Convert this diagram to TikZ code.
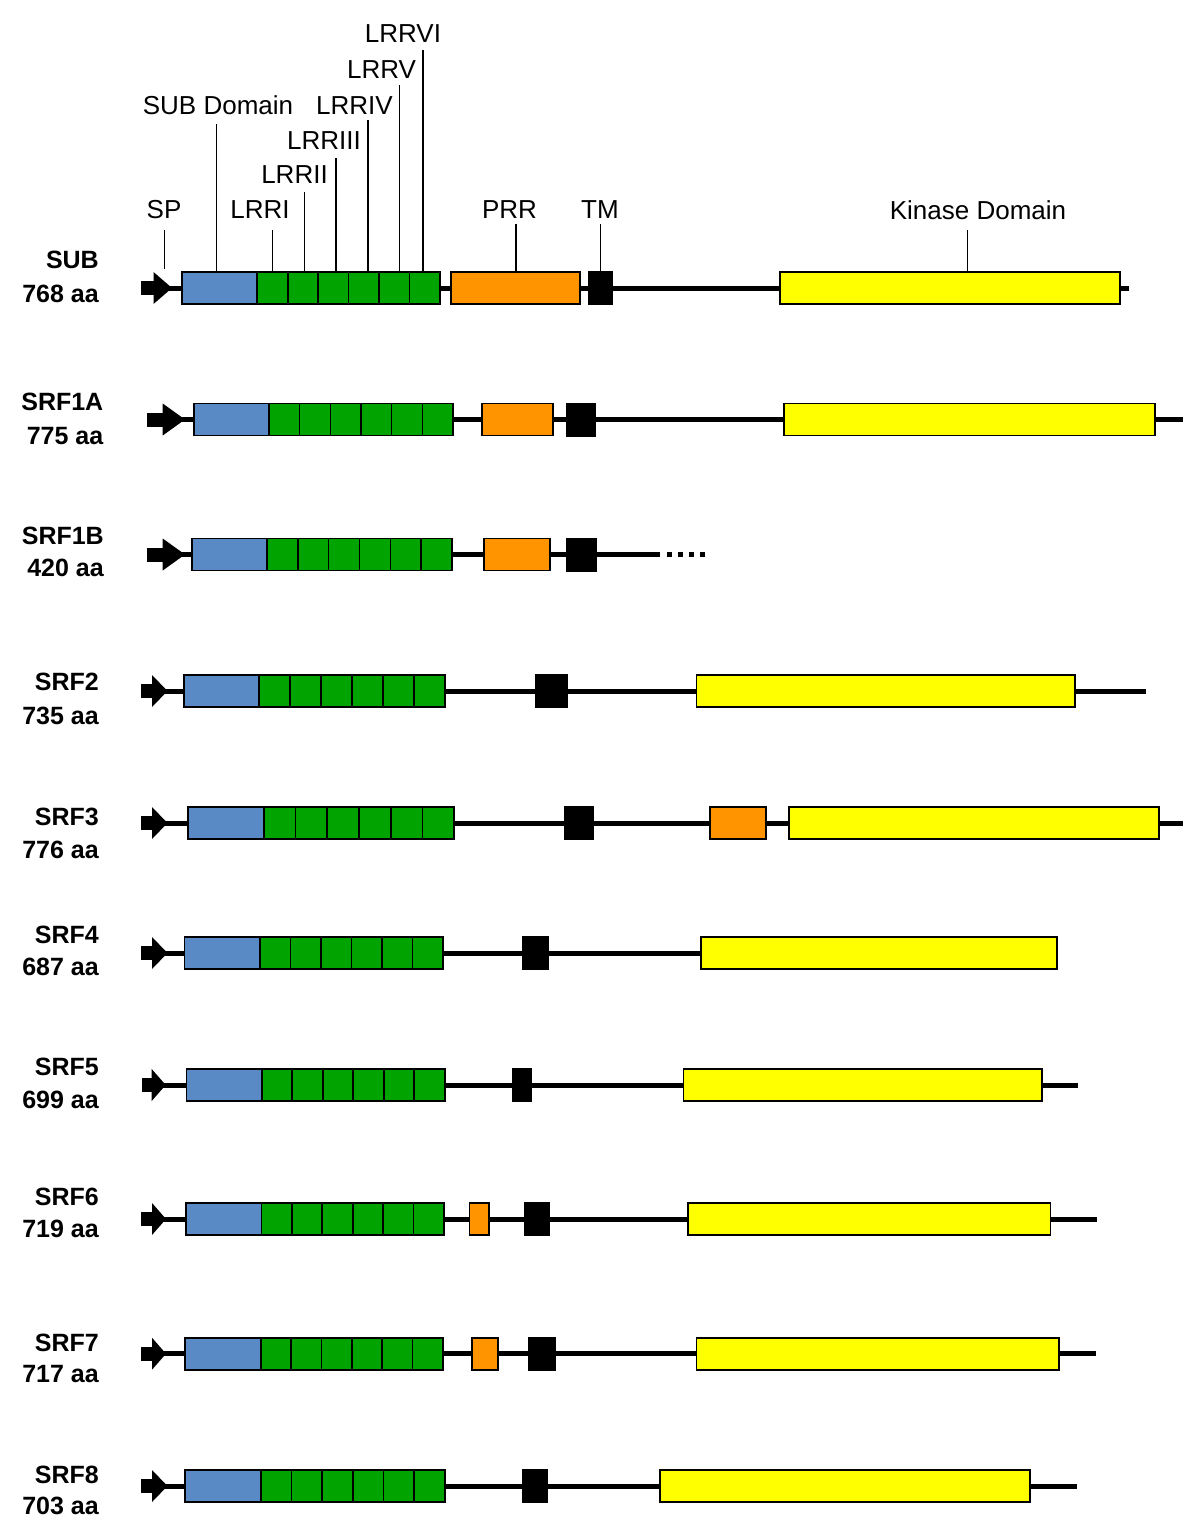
\documentclass[tikz,border=0pt]{standalone}
\usepackage{fontspec}
\setmainfont{Liberation Sans}
\definecolor{subblue}{HTML}{5A8AC6}
\definecolor{lrrgreen}{HTML}{00A300}
\definecolor{prrorange}{HTML}{FF9400}
\definecolor{kinyellow}{HTML}{FFFF00}
\tikzset{
  spineline/.style={line width=5pt, black},
  dombox/.style={draw=black, line width=1.8pt},
  subd/.style={dombox, fill=subblue},
  lrrd/.style={dombox, fill=lrrgreen},
  prrd/.style={dombox, fill=prrorange},
  kind/.style={dombox, fill=kinyellow},
  cellline/.style={line width=1.6pt, black},
  tick/.style={line width=1.6pt, black},
  domlabel/.style={font=\fontsize{26}{30}\selectfont, anchor=base, inner sep=0pt},
  protlabel/.style={font=\fontsize{25}{30}\selectfont\bfseries, anchor=base east, inner sep=0pt}
}
% #1 yc, #2 arrow start, #3 head start, #4 tip, #5 line end
\newcommand\spine[5]{%
  \draw[spineline] (#3,#1) -- (#5,#1);
  \fill (#2,#1-7) rectangle (#3,#1+7);
  \fill (#3,#1-16) -- (#4,#1) -- (#3,#1+16) -- cycle;}
% #1 style, #2 x1, #3 x2, #4 yc
\newcommand\dbox[4]{\path[#1] (#2,#4-16) rectangle (#3,#4+16);}
% #1 x1, #2 x2, #3 yc : six LRR cells
\newcommand\lrrs[3]{%
  \path[lrrd] (#1,#3-16) rectangle (#2,#3+16);
  \foreach \k in {1,...,5}{\draw[cellline] ({#1+\k*(#2-#1)/6},#3-16) -- ({#1+\k*(#2-#1)/6},#3+16);}}
% #1 x1, #2 x2, #3 yc : TM box
\newcommand\tmbox[3]{\fill (#1,#3-17) rectangle (#2,#3+17);}
\begin{document}
\begin{tikzpicture}[x=1pt,y=-1pt]
\useasboundingbox[fill=white] (0,0) rectangle (1200,1537);

% ---------- top labels ----------
\node[domlabel] (lSP)  at (164,218) {SP};
\node[domlabel] (lSUB) at (218,114) {SUB Domain};
\node[domlabel] (lL1)  at (260,218) {LRRI};
\node[domlabel] (lL2)  at (294.5,183) {LRRII};
\node[domlabel] (lL3)  at (324,149) {LRRIII};
\node[domlabel] (lL4)  at (354.5,114) {LRRIV};
\node[domlabel] (lL5)  at (381.5,78) {LRRV};
\node[domlabel] (lL6)  at (403,42) {LRRVI};
\node[domlabel] (lPRR) at (509.5,218) {PRR};
\node[domlabel] (lTM)  at (600,218) {TM};
\node[domlabel] (lKD)  at (978,219) {Kinase Domain};

\draw[tick] (164.5,230) -- (164.5,269);
\draw[tick] (216.6,124) -- (216.6,272);
\draw[tick] (272.6,230) -- (272.6,272);
\draw[tick] (304.6,192) -- (304.6,272);
\draw[tick] (336,158) -- (336,272);
\draw[tick] (368,120) -- (368,272);
\draw[tick] (399.6,85) -- (399.6,272);
\draw[tick] (423,50) -- (423,272);
\draw[tick] (515.8,224) -- (515.8,272);
\draw[tick] (600.4,224) -- (600.4,272);
\draw[tick] (967.5,230) -- (967.5,272);

% ---------- SUB ----------
\node[protlabel] (nSUB) at (99,268) {SUB};
\node[protlabel] (aSUB) at (99,302) {768 aa};
\spine{288}{141}{153.5}{172}{1128.5}
\dbox{subd}{181.7}{257.3}{288}
\lrrs{257.3}{439.8}{288}
\dbox{prrd}{451}{579.7}{288}
\tmbox{588.4}{613.3}{288}
\dbox{kind}{780}{1120}{288}

% ---------- SRF1A ----------
\node[protlabel] (nS1A) at (103.5,410) {SRF1A};
\node[protlabel] (aS1A) at (103.5,444) {775 aa};
\spine{419.5}{147}{162.7}{185}{1183}
\dbox{subd}{193.8}{269}{419.5}
\lrrs{269}{453}{419.5}
\dbox{prrd}{482}{552.6}{419.5}
\tmbox{565.6}{596}{419.5}
\dbox{kind}{784}{1155}{419.5}

% ---------- SRF1B ----------
\node[protlabel] (nS1B) at (104,544) {SRF1B};
\node[protlabel] (aS1B) at (104,576) {420 aa};
\spine{554.5}{147}{162.7}{185}{660}
\draw[line width=5pt, dash pattern=on 5pt off 6pt] (667,554.5) -- (708,554.5);
\dbox{subd}{192.3}{267}{554.5}
\lrrs{267}{452}{554.5}
\dbox{prrd}{484}{550}{554.5}
\tmbox{566}{597}{554.5}

% ---------- SRF2 ----------
\node[protlabel] (nS2) at (99,690) {SRF2};
\node[protlabel] (aS2) at (99,724) {735 aa};
\spine{691}{140.5}{152}{167.5}{1146}
\dbox{subd}{183.7}{259}{691}
\lrrs{259}{445}{691}
\tmbox{534.5}{567.5}{691}
\dbox{kind}{696.4}{1075}{691}

% ---------- SRF3 ----------
\node[protlabel] (nS3) at (99,825) {SRF3};
\node[protlabel] (aS3) at (99,858) {776 aa};
\spine{823}{140.5}{152}{167.5}{1183}
\dbox{subd}{188.3}{263.7}{823}
\lrrs{263.7}{454.3}{823}
\tmbox{564}{594}{823}
\dbox{prrd}{710}{765.6}{823}
\dbox{kind}{789}{1159}{823}

% ---------- SRF4 ----------
\node[protlabel] (nS4) at (99,943) {SRF4};
\node[protlabel] (aS4) at (99,975) {687 aa};
\spine{953}{140.5}{152}{167.5}{701}
\dbox{subd}{184.5}{260}{953}
\lrrs{260}{443.2}{953}
\tmbox{521.5}{549}{953}
\dbox{kind}{701}{1056.7}{953}

% ---------- SRF5 ----------
\node[protlabel] (nS5) at (99,1075) {SRF5};
\node[protlabel] (aS5) at (99,1108) {699 aa};
\spine{1085}{141.5}{151.7}{165.7}{1077.8}
\dbox{subd}{186.4}{261.8}{1085}
\lrrs{261.8}{444.7}{1085}
\tmbox{511.5}{532}{1085}
\dbox{kind}{683.5}{1042.3}{1085}

% ---------- SRF6 ----------
\node[protlabel] (nS6) at (99,1205) {SRF6};
\node[protlabel] (aS6) at (99,1237) {719 aa};
\spine{1219}{140.5}{152}{166}{1097}
\dbox{subd}{185.6}{261.4}{1219}
\lrrs{261.4}{444}{1219}
\dbox{prrd}{469.5}{489}{1219}
\tmbox{524.3}{550.4}{1219}
\dbox{kind}{687.8}{1050.5}{1219}

% ---------- SRF7 ----------
\node[protlabel] (nS7) at (99,1351) {SRF7};
\node[protlabel] (aS7) at (99,1382) {717 aa};
\spine{1353.7}{140.5}{152}{166}{1096}
\dbox{subd}{184.8}{260.6}{1353.7}
\lrrs{260.6}{442.8}{1353.7}
\dbox{prrd}{472}{498}{1353.7}
\tmbox{528}{556}{1353.7}
\dbox{kind}{696.4}{1059}{1353.7}

% ---------- SRF8 ----------
\node[protlabel] (nS8) at (99,1483) {SRF8};
\node[protlabel] (aS8) at (99,1514) {703 aa};
\spine{1486}{140.5}{152}{167.5}{1076.8}
\dbox{subd}{185.2}{260.6}{1486}
\lrrs{260.6}{445}{1486}
\tmbox{522}{548}{1486}
\dbox{kind}{659.6}{1030}{1486}
\end{tikzpicture}
\end{document}
